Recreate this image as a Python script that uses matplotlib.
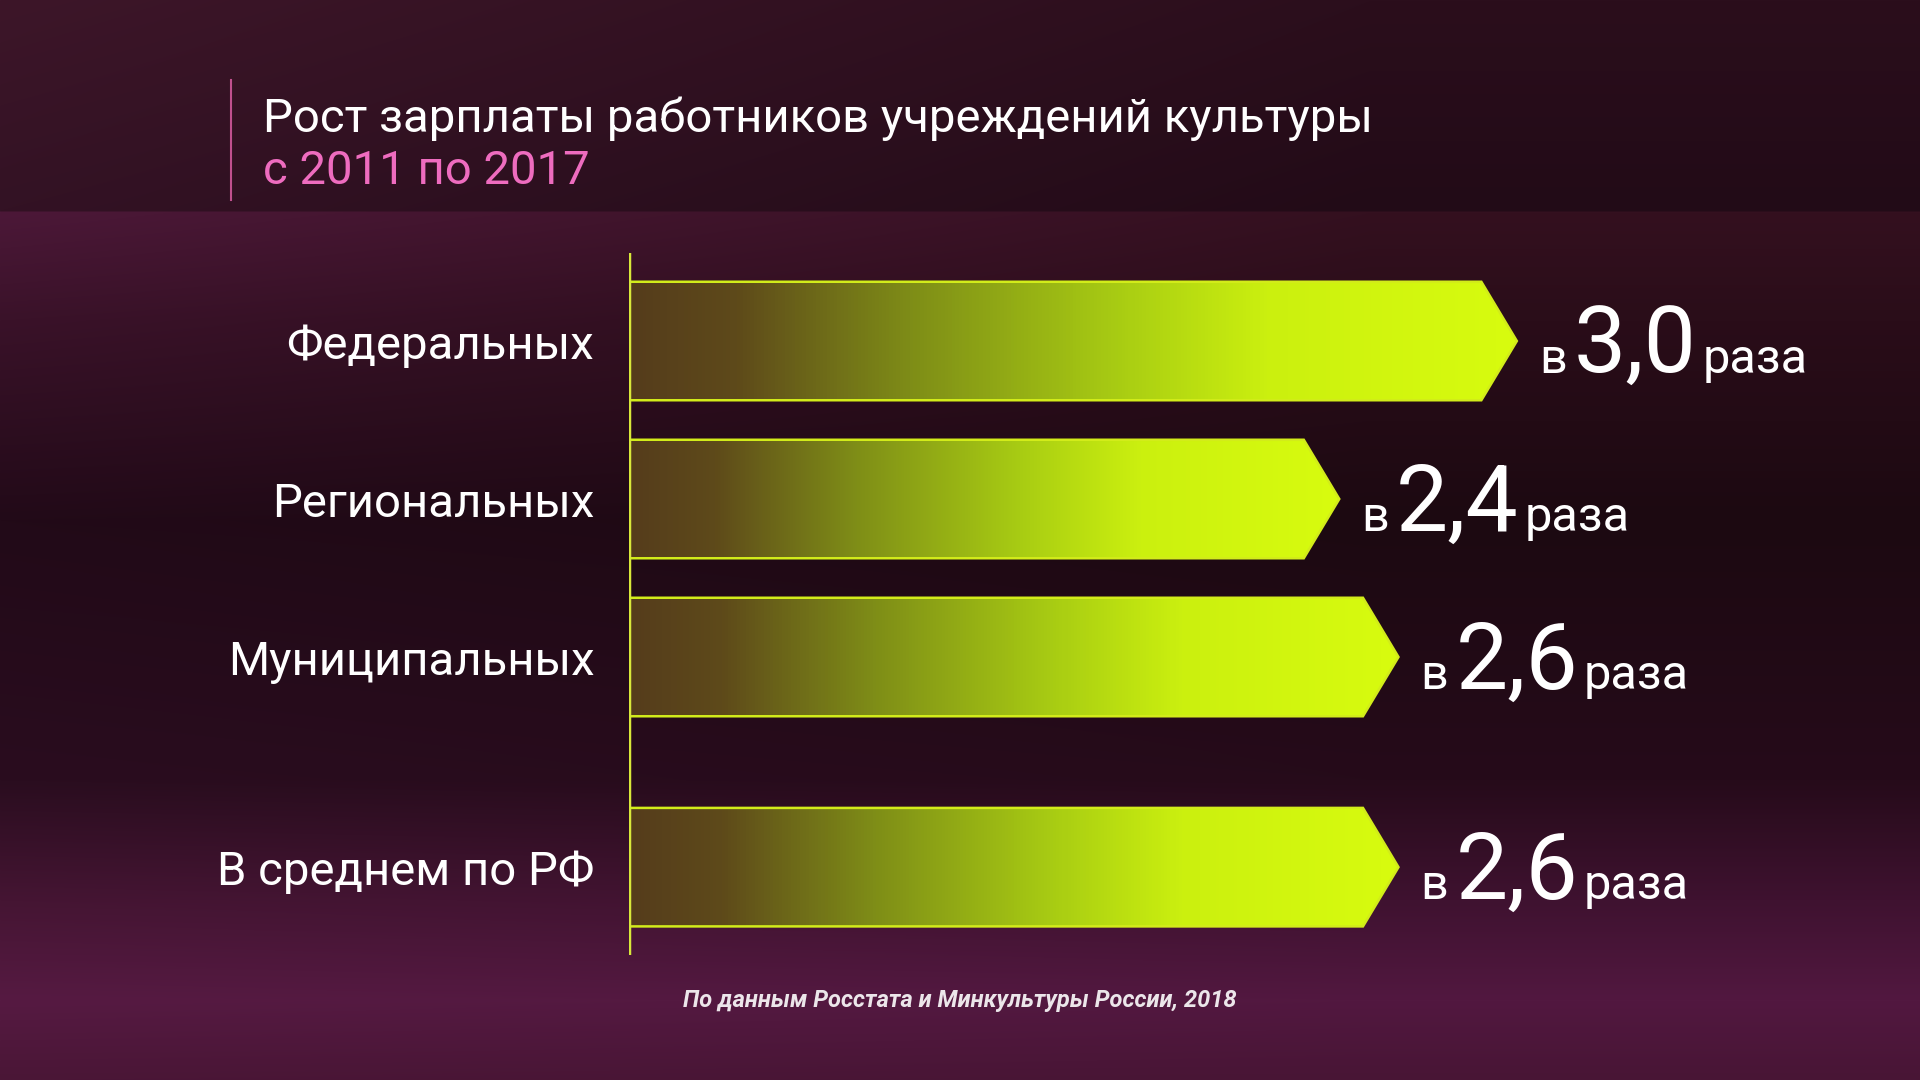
import numpy as np
import matplotlib
matplotlib.use("Agg")
import matplotlib.pyplot as plt
from matplotlib.colors import LinearSegmentedColormap, to_rgb
from matplotlib.patches import Polygon

plt.rcParams['font.family'] = ['Roboto', 'DejaVu Sans']

# data
title_line1 = "Рост зарплаты работников учреждений культуры"
title_line2 = "с 2011 по 2017"
source = "По данным Росстата и Минкультуры России, 2018"
categories = ["Федеральных", "Региональных", "Муниципальных", "В среднем по РФ"]
growth = [3.0, 2.4, 2.6, 2.6]

W, H = 1920, 1080
fig = plt.figure(figsize=(W / 100, H / 100), dpi=100)


def vprofile(stops, n):
    # stops: list of (y_pixel, color) -> (n, 3) array
    ys = [s[0] for s in stops]
    cols = np.array([to_rgb(s[1]) for s in stops])
    y = np.arange(n)
    return np.stack([np.interp(y, ys, cols[:, i]) for i in range(3)], axis=1)


# background: left and right vertical profiles blended across the width
left = vprofile([(0, '#3d1629'), (210, '#331224'), (212, '#4c1838'), (320, '#3a1229'),
                 (520, '#220a18'), (780, '#2a0d1f'), (900, '#451533'),
                 (1000, '#561a42'), (1080, '#4a1636')], H)
right = vprofile([(0, '#2b0e1c'), (210, '#220b17'), (212, '#34101f'), (320, '#2a0d19'),
                  (520, '#1c0911'), (780, '#260b1a'), (900, '#3f1230'),
                  (1000, '#521840'), (1080, '#481535')], H)
fx = np.linspace(0, 1, W)
wx = np.clip(fx * 1.4, 0, 1)[None, :, None]
bg = left[:, None, :] * (1 - wx) + right[:, None, :] * wx
bgax = fig.add_axes([0, 0, 1, 1], zorder=-1)
bgax.imshow(bg, extent=(0, W, H, 0), aspect='auto')
bgax.set_xlim(0, W)
bgax.set_ylim(H, 0)
bgax.axis('off')
bgax.plot([231, 231], [80, 200], color='#c0508e', lw=1.5)

# title
fig.text(263 / W, 1 - 132 / H, title_line1, color='white', fontsize=34,
         ha='left', va='baseline')
fig.text(263 / W, 1 - 184 / H, title_line2, color='#ee6cbf', fontsize=34,
         ha='left', va='baseline')
fig.text(0.5, 1 - 1000 / H, source, color='#ece6ea', fontsize=17,
         style='italic', fontweight='bold', ha='center', va='center')

# bars
ax = fig.add_axes([629 / W, 1 - 955 / H, 1243 / W, 702 / H])
ax.patch.set_alpha(0)
for s in ax.spines.values():
    s.set_visible(False)

cmap = LinearSegmentedColormap.from_list('bar', [
    (0.0, '#553c1c'), (0.12, '#5e4a1a'), (0.32, '#7f8e17'),
    (0.55, '#a8cc13'), (0.72, '#cbf00f'), (1.0, '#d8fc0e')])

pos = np.arange(len(categories), dtype=float)
pos[-1] += 0.33
bar_h = 0.75
tip = 0.12
grad = np.linspace(0, 1, 256)[None, :]

for y, v in zip(pos, growth):
    pts = [(0, y - bar_h / 2), (v - tip, y - bar_h / 2), (v, y),
           (v - tip, y + bar_h / 2), (0, y + bar_h / 2)]
    poly = Polygon(pts, closed=True, facecolor='none', edgecolor='#d2ec1a',
                   lw=1.8, zorder=3)
    ax.add_patch(poly)
    im = ax.imshow(grad, extent=(0, v, y + bar_h / 2, y - bar_h / 2),
                   cmap=cmap, aspect='auto', zorder=2)
    im.set_clip_path(poly)

    num = f"{v:.1f}".replace('.', ',')
    t1 = ax.annotate("в", xy=(v, y), xytext=(16, -23), textcoords='offset points',
                     color='white', fontsize=35, ha='left', va='baseline')
    t2 = ax.annotate(num, xy=(1, y), xycoords=(t1, ax.transData),
                     xytext=(5, -23), textcoords='offset points',
                     color='white', fontsize=67, ha='left', va='baseline')
    ax.annotate("раза", xy=(1, y), xycoords=(t2, ax.transData),
                xytext=(4, -23), textcoords='offset points',
                color='white', fontsize=35, ha='left', va='baseline')

ax.axvline(0, color='#d8e83a', lw=2.5, zorder=4)
ax.set_yticks(pos)
ax.set_yticklabels(categories, color='white', fontsize=34)
ax.tick_params(axis='y', length=0, pad=25)
ax.set_xticks([])
ax.set_xlim(0, 4.2)
ax.set_ylim(3.886, -0.557)

fig.savefig('out.png', dpi=100)
